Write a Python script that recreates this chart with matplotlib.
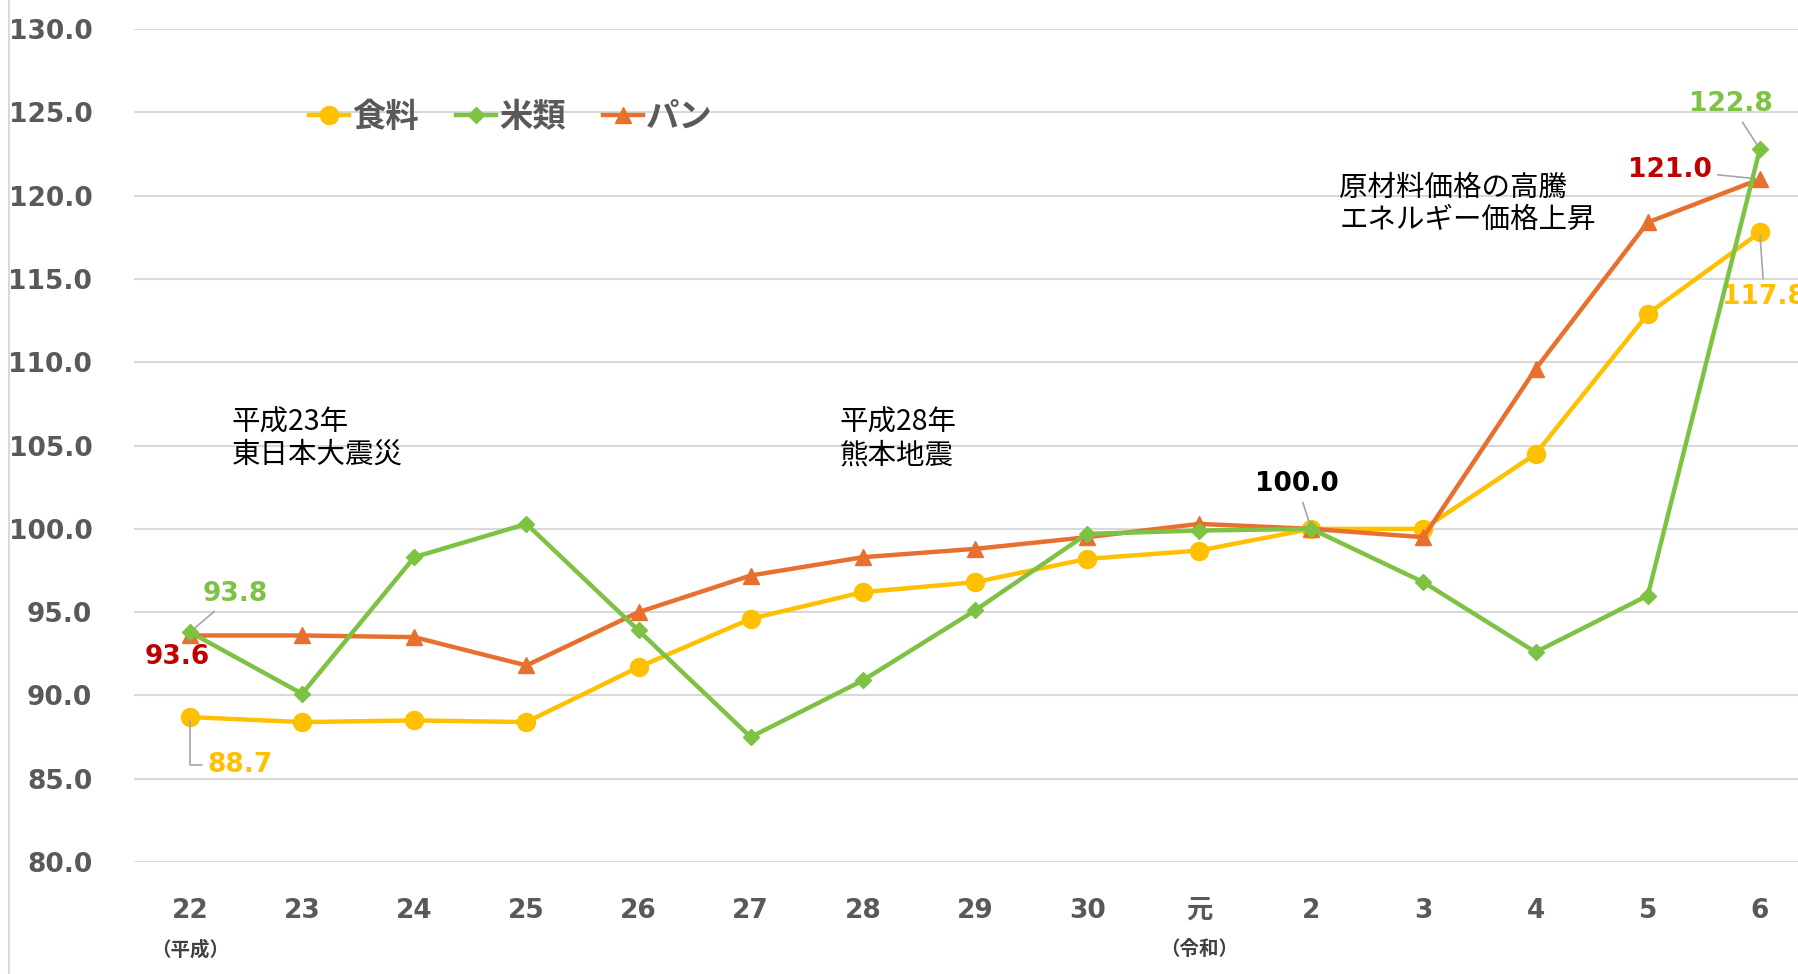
import matplotlib
matplotlib.use("Agg")
import matplotlib.pyplot as plt
from matplotlib.lines import Line2D
from matplotlib.transforms import blended_transform_factory

plt.rcParams['font.family'] = ['DejaVu Sans', 'Noto Sans CJK JP']

# data (index, 令和2年 = 100)
years = ['22', '23', '24', '25', '26', '27', '28', '29', '30', '元', '2', '3', '4', '5', '6']
food = [88.7, 88.4, 88.5, 88.4, 91.7, 94.6, 96.2, 96.8, 98.2, 98.7, 100.0, 100.0, 104.5, 112.9, 117.8]
rice = [93.8, 90.1, 98.3, 100.3, 93.9, 87.5, 90.9, 95.1, 99.7, 99.9, 100.0, 96.8, 92.6, 96.0, 122.8]
bread = [93.6, 93.6, 93.5, 91.8, 95.0, 97.2, 98.3, 98.8, 99.5, 100.3, 100.0, 99.5, 109.6, 118.4, 121.0]
series_names = ['食料', '米類', 'パン']

c_food = '#FFC000'
c_rice = '#7DC242'
c_bread = '#E8702F'
c_dred = '#C00000'
c_tick = '#595959'

fig = plt.figure(figsize=(17.98, 9.74), dpi=100)
ax = fig.add_axes([0.0745, 0.115, 0.9255, 0.855])

x = list(range(len(years)))
ax.plot(x, food, color=c_food, lw=3.2, marker='o', ms=13, label=series_names[0], zorder=3)
ax.plot(x, rice, color=c_rice, lw=3.2, marker='D', ms=8, label=series_names[1], zorder=4)
ax.plot(x, bread, color=c_bread, lw=3.2, marker='^', ms=12, label=series_names[2], zorder=3)

ax.set_ylim(80, 130)
ax.set_xlim(-0.5, 14.34)
ax.set_yticks([80, 85, 90, 95, 100, 105, 110, 115, 120, 125, 130])
ax.set_yticklabels(['%.1f' % v for v in ax.get_yticks()])
ax.set_xticks(x)
ax.set_xticklabels(years)
ax.grid(axis='y', color='#D9D9D9', lw=1.5)
ax.set_axisbelow(True)
for s in ax.spines.values():
    s.set_visible(False)
ax.tick_params(length=0)
ax.tick_params(axis='y', pad=30, labelsize=19, labelcolor=c_tick)
ax.tick_params(axis='x', pad=26, labelsize=19, labelcolor=c_tick)
for t in ax.get_xticklabels() + ax.get_yticklabels():
    t.set_fontweight('bold')

# era notes under x axis
tr = blended_transform_factory(ax.transData, fig.transFigure)
ax.text(0, 0.025, '（平成）', transform=tr, ha='center', va='center', fontsize=14,
        fontweight='bold', color='#404040', family=['Noto Sans CJK JP'])
ax.text(9, 0.025, '（令和）', transform=tr, ha='center', va='center', fontsize=14,
        fontweight='bold', color='#404040', family=['Noto Sans CJK JP'])

# value labels
lead = dict(arrowstyle='-', color='#A6A6A6', lw=1.2)
ax.annotate('93.8', xy=(0, rice[0]), xytext=(0.40, 96.1), color=c_rice, fontsize=19,
            fontweight='bold', ha='center', va='center', arrowprops=lead)
ax.annotate('93.6', xy=(0, bread[0]), xytext=(-0.11, 92.3), color=c_dred, fontsize=19,
            fontweight='bold', ha='center', va='center')
ax.annotate('88.7', xy=(0, food[0]), xytext=(0.45, 85.85), color=c_food, fontsize=19,
            fontweight='bold', ha='center', va='center',
            arrowprops=dict(arrowstyle='-', color='#A6A6A6', lw=1.2,
                            connectionstyle='angle,angleA=0,angleB=90,rad=0'))
ax.annotate('100.0', xy=(10, food[10]), xytext=(9.87, 102.7), color='black', fontsize=19,
            fontweight='bold', ha='center', va='center', arrowprops=lead)
ax.annotate('121.0', xy=(14, bread[14]), xytext=(13.2, 121.55), color=c_dred, fontsize=19,
            fontweight='bold', ha='center', va='center', arrowprops=lead)
ax.annotate('122.8', xy=(14, rice[14]), xytext=(13.74, 125.5), color=c_rice, fontsize=19,
            fontweight='bold', ha='center', va='center', arrowprops=lead)
ax.annotate('117.8', xy=(14, food[14]), xytext=(14.04, 113.9), color=c_food, fontsize=19,
            fontweight='bold', ha='center', va='center', arrowprops=lead,
            annotation_clip=False)

# event notes
jp = ['Noto Sans CJK JP']
ax.text(0.37, 105.4, '平成23年\n東日本大震災', ha='left', va='center', fontsize=20.5,
        family=jp, linespacing=1.1)
ax.text(5.79, 105.4, '平成28年\n熊本地震', ha='left', va='center', fontsize=20.5,
        family=jp, linespacing=1.1)
ax.text(10.25, 119.5, '原材料価格の高騰\nエネルギー価格上昇', ha='left', va='center', fontsize=20.5,
        family=jp, linespacing=1.1)

leg = ax.legend(loc='center left', bbox_to_anchor=(0.172, 1 - 117 / 974),
                bbox_transform=fig.transFigure, ncol=3, frameon=False,
                handlelength=1.2, handletextpad=0.1, columnspacing=1.1,
                borderpad=0, borderaxespad=0, prop={'family': jp, 'size': 24, 'weight': 'bold'})
for t in leg.get_texts():
    t.set_color(c_tick)

fig.add_artist(Line2D([0.005, 0.005], [0, 1], color='#D9D9D9', lw=1.5))

fig.savefig('out.png', dpi=100)
